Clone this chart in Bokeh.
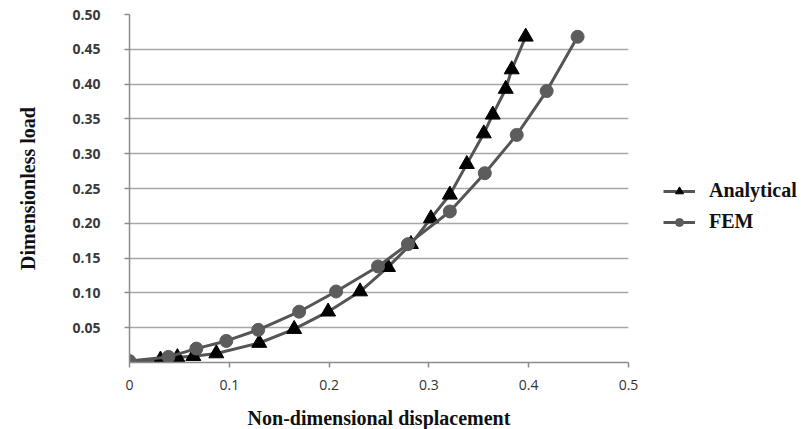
from bokeh.plotting import figure
from bokeh.models import Range1d, FixedTicker, Legend, LegendItem
from bokeh.embed import file_html
from bokeh.resources import INLINE

# ---- data ----
analytical_x = [0.0, 0.031, 0.048, 0.064, 0.087, 0.130, 0.165, 0.199, 0.231, 0.259,
                0.282, 0.302, 0.321, 0.338, 0.355, 0.364, 0.377, 0.383, 0.397]
analytical_y = [0.0, 0.004, 0.0075, 0.009, 0.013, 0.028, 0.048, 0.073, 0.102, 0.137,
                0.170, 0.207, 0.241, 0.285, 0.329, 0.356, 0.393, 0.421, 0.468]

fem_x = [0.0, 0.039, 0.067, 0.097, 0.129, 0.170, 0.207, 0.249, 0.279, 0.321,
         0.356, 0.388, 0.418, 0.449]
fem_y = [0.002, 0.008, 0.020, 0.031, 0.047, 0.073, 0.102, 0.138, 0.170, 0.217,
         0.272, 0.327, 0.390, 0.468]

x_ticks = [0.0, 0.1, 0.2, 0.3, 0.4, 0.5]
x_tick_labels = ["0", "0.1", "0.2", "0.3", "0.4", "0.5"]
y_ticks = [0.05, 0.10, 0.15, 0.20, 0.25, 0.30, 0.35, 0.40, 0.45, 0.50]
y_tick_labels = ["0.05", "0.10", "0.15", "0.20", "0.25", "0.30", "0.35", "0.40", "0.45", "0.50"]

series_names = ["Analytical", "FEM"]

LINE_COL = "#555555"
GRID_COL = "#a6a6a6"
AXIS_COL = "#8c8c8c"

p = figure(frame_width=499, frame_height=348, output_backend="svg", toolbar_location=None,
           x_range=Range1d(0, 0.5), y_range=Range1d(0, 0.5),
           min_border_left=129, min_border_right=0, min_border_top=14, min_border_bottom=67)
p.outline_line_color = None
p.background_fill_color = "white"
p.border_fill_color = "white"

# grids
p.xgrid.visible = False
p.ygrid.ticker = FixedTicker(ticks=y_ticks)
p.ygrid.grid_line_color = GRID_COL
p.ygrid.grid_line_width = 1.5

# x axis
xa = p.xaxis[0]
xa.ticker = FixedTicker(ticks=x_ticks)
xa.major_label_overrides = {t: l for t, l in zip(x_ticks, x_tick_labels)}
xa.axis_line_color = AXIS_COL
xa.axis_line_width = 1.5
xa.major_tick_line_color = AXIS_COL
xa.major_tick_line_width = 1.5
xa.major_tick_in = 0
xa.major_tick_out = 5
xa.minor_tick_line_color = None
xa.major_label_standoff = 12
xa.major_label_text_font = "Open Sans"
xa.major_label_text_font_size = "14px"
xa.major_label_text_color = "#333333"
xa.axis_label = "Non-dimensional displacement"
xa.axis_label_text_font = "Liberation Serif"
xa.axis_label_text_font_style = "bold"
xa.axis_label_text_font_size = "20px"
xa.axis_label_text_color = "#111111"
xa.axis_label_standoff = 14

# y axis
ya = p.yaxis[0]
ya.ticker = FixedTicker(ticks=y_ticks)
ya.major_label_overrides = {t: l for t, l in zip(y_ticks, y_tick_labels)}
ya.axis_line_color = AXIS_COL
ya.axis_line_width = 1.5
ya.major_tick_line_color = AXIS_COL
ya.major_tick_line_width = 1.5
ya.major_tick_in = 0
ya.major_tick_out = 5
ya.minor_tick_line_color = None
ya.major_label_standoff = 24
ya.major_label_text_font = "Open Sans"
ya.major_label_text_font_style = "bold"
ya.major_label_text_font_size = "14px"
ya.major_label_text_color = "#3a3a3a"
ya.axis_label = "Dimensionless load"
ya.axis_label_text_font = "Liberation Serif"
ya.axis_label_text_font_style = "bold"
ya.axis_label_text_font_size = "20px"
ya.axis_label_text_color = "#111111"
ya.axis_label_standoff = 30

# series
l1 = p.line(analytical_x, analytical_y, line_color=LINE_COL, line_width=3, line_join="round")
s1 = p.scatter(analytical_x, analytical_y, marker="triangle", size=15,
               fill_color="black", line_color="black")
l2 = p.line(fem_x, fem_y, line_color=LINE_COL, line_width=3, line_join="round")
s2 = p.scatter(fem_x, fem_y, marker="circle", size=13,
               fill_color="#5c5c5c", line_color="#5c5c5c")

legend = Legend(items=[LegendItem(label=series_names[0], renderers=[l1, s1]),
                       LegendItem(label=series_names[1], renderers=[l2, s2])],
                location="center_left")
legend.title = " "
legend.title_text_font_size = "20px"
legend.title_standoff = 13
legend.border_line_color = None
legend.background_fill_alpha = 0
legend.padding = 0
legend.margin = 35
legend.spacing = 8
legend.glyph_width = 32
legend.glyph_height = 20
legend.label_height = 20
legend.label_standoff = 14
legend.label_text_font = "Liberation Serif"
legend.label_text_font_style = "bold"
legend.label_text_font_size = "20px"
legend.label_text_color = "#111111"
p.add_layout(legend, "right")

open("out.html", "w").write(file_html(p, INLINE))
